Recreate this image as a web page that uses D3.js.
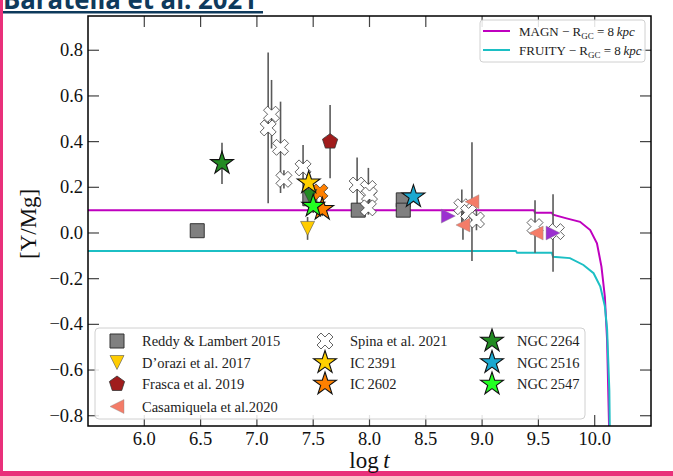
<!DOCTYPE html>
<html>
<head>
<meta charset="utf-8">
<script src="https://cdn.jsdelivr.net/npm/d3@7"></script>
<style>
  body { margin: 0; background: #fff; }
  svg { display: block; }
</style>
</head>
<body>
<div id="chart"></div>
<script>
// ---- data ----
const xTicks = [6.0, 6.5, 7.0, 7.5, 8.0, 8.5, 9.0, 9.5, 10.0];
const yTicks = [-0.8, -0.6, -0.4, -0.2, 0.0, 0.2, 0.4, 0.6, 0.8];

// model curves
const magnT = [5.5, 9.46, 9.47, 9.62, 9.63, 9.75, 9.87, 9.96, 10.02, 10.06, 10.09, 10.11, 10.13];
const magnY = [0.10, 0.10, 0.089, 0.089, 0.08, 0.064, 0.049, 0.013, -0.045, -0.147, -0.278, -0.468, -0.90];
const fruityT = [5.5, 9.30, 9.31, 9.62, 9.63, 9.78, 9.90, 9.99, 10.05, 10.09, 10.11, 10.13, 10.135];
const fruityY = [-0.079, -0.079, -0.087, -0.087, -0.104, -0.11, -0.14, -0.176, -0.235, -0.32, -0.42, -0.69, -0.90];

// literature samples
const reddyT = [6.47, 7.47, 7.90, 8.30, 8.30];
const reddyY = [0.01, 0.15, 0.10, 0.145, 0.10];
const reddyErr = [0, 0, 0, 0, 0.03];

const doraziT = [7.45];
const doraziY = [0.02];
const doraziErr = [0.05];
const dorazi2264T = [7.47];
const dorazi2264Y = [0.16];

const frascaT = [7.65];
const frascaY = [0.40];
const frascaErr = [0.16];

const casaT = [8.91, 8.83, 9.48];
const casaY = [0.137, 0.035, 0.0];
const casaErr = [0.26, 0.065, 0];

const otherT = [8.70, 9.63];
const otherY = [0.074, 0.0];
const otherErr = [0, 0.17];

const spinaT = [7.10, 7.13, 7.21, 7.24, 7.41, 7.89, 7.99, 8.00, 7.99, 8.82, 8.88, 8.95, 9.47, 9.66];
const spinaY = [0.46, 0.52, 0.375, 0.235, 0.285, 0.21, 0.195, 0.166, 0.11, 0.115, 0.09, 0.057, 0.028, 0.006];
const spinaErr = [0.33, 0.15, 0.20, 0.04, 0.10, 0.12, 0.09, 0.05, 0.03, 0.075, 0, 0.045, 0.115, 0];
const spina2602T = [7.56];
const spina2602Y = [0.18];

// clusters (this work)
const clusterNames = ["NGC\u20092264", "IC\u20092391", "IC\u20092602", "NGC\u20092516", "NGC\u20092547"];
const clusterT = [6.69, 7.46, 7.58, 8.39, 7.50];
const clusterY = [0.305, 0.22, 0.104, 0.159, 0.118];
const clusterErr = [0.09, 0.03, 0.03, 0, 0.03];
const clusterColors = ["#228b22", "#ffd000", "#ff8000", "#1aa8d0", "#22ff22"];

// ---- layout ----
const width = 673, height = 476;
const plot = { left: 88, right: 651, top: 16, bottom: 426 };

const x = d3.scaleLinear().domain([5.5, 10.5]).range([plot.left, plot.right]);
const y = d3.scaleLinear().domain([-0.845, 0.95]).range([plot.bottom, plot.top]);

const svg = d3.select("#chart").append("svg")
  .attr("width", width).attr("height", height)
  .attr("viewBox", [0, 0, width, height]);

const serif = "'Liberation Serif', 'DejaVu Serif', serif";

// slide decoration (title is cut by the top edge, like the screenshot)
svg.append("text")
  .attr("x", 3).attr("y", 9)
  .attr("font-family", "'Open Sans', sans-serif")
  .attr("font-weight", 700).attr("font-size", 27)
  .attr("fill", "#0e3a5c")
  .attr("textLength", 254).attr("lengthAdjust", "spacingAndGlyphs")
  .text("Baratella et al. 2021");
svg.append("rect").attr("x", 0).attr("y", 11).attr("width", 263).attr("height", 2.5).attr("fill", "#0e3a5c");
svg.append("rect").attr("x", 0).attr("y", 0).attr("width", 3).attr("height", height).attr("fill", "#e9307a");
svg.append("rect").attr("x", 0).attr("y", 471).attr("width", width).attr("height", 5).attr("fill", "#e9307a");

// clip
svg.append("clipPath").attr("id", "clip")
  .append("rect")
  .attr("x", plot.left).attr("y", plot.top)
  .attr("width", plot.right - plot.left).attr("height", plot.bottom - plot.top);

const g = svg.append("g").attr("clip-path", "url(#clip)");

// model lines
const line = d3.line().x(d => x(d[0])).y(d => y(d[1]));
g.append("path")
  .datum(magnT.map((t, i) => [t, magnY[i]]))
  .attr("fill", "none").attr("stroke", "#bf00bf").attr("stroke-width", 2)
  .attr("d", line);
g.append("path")
  .datum(fruityT.map((t, i) => [t, fruityY[i]]))
  .attr("fill", "none").attr("stroke", "#1cbfc4").attr("stroke-width", 2)
  .attr("d", line);

// marker shapes
function poly(pts) { return d3.line()(pts) + "Z"; }
function star(r) {
  const pts = [];
  for (let i = 0; i < 10; i++) {
    const a = -Math.PI / 2 + i * Math.PI / 5;
    const rr = i % 2 ? r * 0.381966 : r;
    pts.push([rr * Math.cos(a), rr * Math.sin(a)]);
  }
  return poly(pts);
}
function ngon(n, r) {
  return poly(d3.range(n).map(i => {
    const a = -Math.PI / 2 + i * 2 * Math.PI / n;
    return [r * Math.cos(a), r * Math.sin(a)];
  }));
}
const shapes = {
  square: s => poly([[-s / 2, -s / 2], [s / 2, -s / 2], [s / 2, s / 2], [-s / 2, s / 2]]),
  tdown: s => poly([[0, s / 2], [-s / 2, -s / 2], [s / 2, -s / 2]]),
  tleft: s => poly([[-s / 2, 0], [s / 2, -s / 2], [s / 2, s / 2]]),
  tright: s => poly([[s / 2, 0], [-s / 2, -s / 2], [-s / 2, s / 2]]),
  pent: s => ngon(5, s / 2),
  xx: s => poly([[-1, -2], [0, -1], [1, -2], [2, -1], [1, 0], [2, 1],
                 [1, 2], [0, 1], [-1, 2], [-2, 1], [-1, 0], [-2, -1]].map(p => [p[0] * s / 4, p[1] * s / 4])),
  star: s => star(s / 2)
};

// series table built from arrays above (order = drawing order)
function rows(T, Y, E) { return T.map((t, i) => ({ t, y: Y[i], e: E ? E[i] : 0 })); }
const sReddy = { data: rows(reddyT, reddyY, reddyErr), shape: "square", size: 14, fill: "#808080", stroke: "#333", sw: 1 };
const sSpina = { data: rows(spinaT, spinaY, spinaErr), shape: "xx", size: 16, fill: "#fff", stroke: "#222", sw: 0.7 };
const sSpina2602 = { data: rows(spina2602T, spina2602Y), shape: "xx", size: 16, fill: "#ff8000", stroke: "#222", sw: 0.7 };
const sDorazi2264 = { data: rows(dorazi2264T, dorazi2264Y), shape: "tdown", size: 14, fill: "#228b22", stroke: "#333", sw: 0.6 };
const sDorazi = { data: rows(doraziT, doraziY, doraziErr), shape: "tdown", size: 14, fill: "#ffcc00", stroke: "#555", sw: 0.6 };
const sFrasca = { data: rows(frascaT, frascaY, frascaErr), shape: "pent", size: 16, fill: "#a01c1c", stroke: "#333", sw: 0.8 };
const sCasa = { data: rows(casaT, casaY, casaErr), shape: "tleft", size: 14, fill: "#f47c68", stroke: "#888", sw: 0.4 };
const sOther = { data: rows(otherT, otherY, otherErr), shape: "tright", size: 14, fill: "#9b30d0", stroke: "#888", sw: 0.4 };
const sClusters = clusterT.map((t, i) => ({
  data: [{ t, y: clusterY[i], e: clusterErr[i] }], shape: "star", size: 24,
  fill: clusterColors[i], stroke: "#111", sw: 1.1
}));
const series = [sReddy, sSpina, sSpina2602, sDorazi2264, sDorazi, sFrasca, sCasa, sOther, ...sClusters];

// error bars
const allPts = series.flatMap(s => s.data).filter(d => d.e > 0);
g.append("g").selectAll("line").data(allPts).join("line")
  .attr("x1", d => x(d.t)).attr("x2", d => x(d.t))
  .attr("y1", d => y(d.y - d.e)).attr("y2", d => y(d.y + d.e))
  .attr("stroke", "#5a5a5a").attr("stroke-width", 1.6);

// markers
series.forEach(s => {
  g.append("g").selectAll("path").data(s.data).join("path")
    .attr("transform", d => `translate(${x(d.t)},${y(d.y)})`)
    .attr("d", shapes[s.shape](s.size))
    .attr("fill", s.fill).attr("stroke", s.stroke).attr("stroke-width", s.sw)
    .attr("stroke-linejoin", "miter");
});

// ticks (inward, all four sides)
const tickLen = 11;
const ticks = svg.append("g").attr("stroke", "#444").attr("stroke-width", 1.2);
xTicks.forEach(v => {
  ticks.append("line").attr("x1", x(v)).attr("x2", x(v)).attr("y1", plot.bottom).attr("y2", plot.bottom - tickLen);
  ticks.append("line").attr("x1", x(v)).attr("x2", x(v)).attr("y1", plot.top).attr("y2", plot.top + tickLen);
});
yTicks.forEach(v => {
  ticks.append("line").attr("y1", y(v)).attr("y2", y(v)).attr("x1", plot.left).attr("x2", plot.left + tickLen);
  ticks.append("line").attr("y1", y(v)).attr("y2", y(v)).attr("x1", plot.right).attr("x2", plot.right - tickLen);
});

// frame
svg.append("rect")
  .attr("x", plot.left).attr("y", plot.top)
  .attr("width", plot.right - plot.left).attr("height", plot.bottom - plot.top)
  .attr("fill", "none").attr("stroke", "#000").attr("stroke-width", 1.5);

// tick labels
const fmt = v => (v < 0 ? "\u2212" : "") + Math.abs(v).toFixed(1);
svg.append("g").selectAll("text").data(xTicks).join("text")
  .attr("x", d => x(d)).attr("y", 445)
  .attr("text-anchor", "middle")
  .attr("font-family", serif).attr("font-size", 18.5).attr("fill", "#111")
  .text(fmt);
svg.append("g").selectAll("text").data(yTicks).join("text")
  .attr("x", plot.left - 5).attr("y", d => y(d) + 6)
  .attr("text-anchor", "end")
  .attr("font-family", serif).attr("font-size", 18.5).attr("fill", "#111")
  .text(fmt);

// axis titles
const xl = svg.append("text")
  .attr("x", x(8.0)).attr("y", 468).attr("text-anchor", "middle")
  .attr("font-family", serif).attr("font-size", 23).attr("fill", "#111");
xl.append("tspan").text("log\u2009");
xl.append("tspan").attr("font-style", "italic").text("t");

svg.append("text")
  .attr("transform", `translate(36,${y(0.04)}) rotate(-90)`)
  .attr("text-anchor", "middle")
  .attr("font-family", serif).attr("font-size", 23).attr("fill", "#111")
  .text("[Y/Mg]");

// upper legend
const lg1 = svg.append("g");
lg1.append("rect").attr("x", 480).attr("y", 20).attr("width", 165).attr("height", 42).attr("rx", 3)
  .attr("fill", "#fff").attr("fill-opacity", 0.85).attr("stroke", "#d0d0d0");
const modelNames = ["MAGN", "FRUITY"];
const modelColors = ["#bf00bf", "#1cbfc4"];
modelNames.forEach((name, i) => {
  const yy = 31 + i * 19;
  lg1.append("line").attr("x1", 483).attr("x2", 510).attr("y1", yy).attr("y2", yy)
    .attr("stroke", modelColors[i]).attr("stroke-width", 2);
  const t = lg1.append("text").attr("x", 519).attr("y", yy + 4.5)
    .attr("font-family", serif).attr("font-size", 13).attr("fill", "#222");
  t.append("tspan").text(name + " \u2212 R");
  t.append("tspan").attr("font-size", 9).attr("dy", 3).text("GC");
  t.append("tspan").attr("dy", -3).text(" = 8\u2009");
  t.append("tspan").attr("font-style", "italic").text("kpc");
});

// lower legend
const lg2 = svg.append("g");
lg2.append("rect").attr("x", 95).attr("y", 328).attr("width", 490).attr("height", 91).attr("rx", 4)
  .attr("fill", "#fff").attr("fill-opacity", 0.85).attr("stroke", "#d0d0d0");
const legendLabels = ["Reddy & Lambert 2015", "D\u2019orazi et al. 2017", "Frasca et al. 2019", "Casamiquela et al.2020",
  "Spina et al. 2021", clusterNames[1], clusterNames[2],
  clusterNames[0], clusterNames[3], clusterNames[4]];
const legendStyle = [sReddy, sDorazi, sFrasca, sCasa, sSpina,
  sClusters[1], sClusters[2], sClusters[0], sClusters[3], sClusters[4]];
const colX = [117, 325, 492];
const rowY = [341, 362.5, 384, 406.5];
const slots = [[0, 0], [0, 1], [0, 2], [0, 3], [1, 0], [1, 1], [1, 2], [2, 0], [2, 1], [2, 2]];
legendLabels.forEach((lab, i) => {
  const [c, r] = slots[i];
  const s = legendStyle[i];
  lg2.append("path")
    .attr("transform", `translate(${colX[c]},${rowY[r]})`)
    .attr("d", shapes[s.shape](s.size))
    .attr("fill", s.fill).attr("stroke", s.stroke).attr("stroke-width", s.sw);
  lg2.append("text").attr("x", colX[c] + 25).attr("y", rowY[r] + 5)
    .attr("font-family", serif).attr("font-size", 14.5).attr("fill", "#222")
    .text(lab);
});
</script>
</body>
</html>
